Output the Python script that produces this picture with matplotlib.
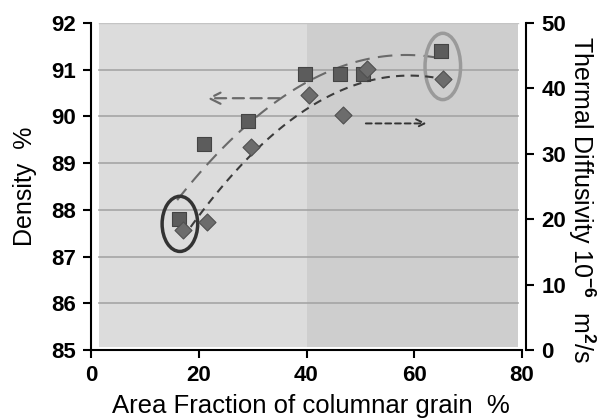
import numpy as np
import matplotlib
matplotlib.use("Agg")
import matplotlib.pyplot as plt
from matplotlib.patches import Ellipse

plt.rcParams['font.family'] = ['Liberation Sans', 'DejaVu Sans']
plt.rcParams['font.weight'] = 'bold'
plt.rcParams['xtick.labelsize'] = 16
plt.rcParams['ytick.labelsize'] = 16
plt.rcParams['mathtext.fontset'] = 'custom'
plt.rcParams['mathtext.rm'] = 'Liberation Sans'
plt.rcParams['mathtext.it'] = 'Liberation Sans:italic'
plt.rcParams['mathtext.bf'] = 'Liberation Sans:bold'

# Data
dens_x = [16.3, 20.9, 29.2, 39.8, 46.2, 50.5, 65.0]
dens_y = [87.8, 89.4, 89.9, 90.9, 90.9, 90.9, 91.4]
diff_x = [17.0, 21.5, 29.7, 40.4, 46.7, 51.2, 65.4]
diff_y = [18.4, 19.5, 31.1, 39.0, 36.0, 42.9, 41.4]
x_ticks = [0, 20, 40, 60, 80]
left_ticks = [85, 86, 87, 88, 89, 90, 91, 92]
right_ticks = [0, 10, 20, 30, 40, 50]

fig = plt.figure(figsize=(6.03, 4.2), dpi=100)
ax = fig.add_axes([91/603, 70/420, 431/603, 327/420])
ax.set_xlim(0, 80)
ax.set_ylim(85, 92)
ax.axvspan(1.5, 40, ymin=0.008, ymax=1, color='#dcdcdc', lw=0, zorder=0)
ax.axvspan(40, 79.2, ymin=0.008, ymax=1, color='#cecece', lw=0, zorder=0)
for v in left_ticks[1:-1]:
    ax.axhline(v, xmin=1.5/80, xmax=79.2/80, color='#a5a5a5', lw=1.2, zorder=1)
ax.axhline(92, xmin=1.5/80, xmax=79.2/80, color='#c4c4c4', lw=1.0, zorder=1)

ax2 = ax.twinx()
ax2.set_ylim(0, 50)

# trend lines (2nd-order polynomial fits)
xs = np.linspace(16, 65, 100)
pd_ = np.polyfit(dens_x, dens_y, 2)
ax.plot(xs, np.polyval(pd_, xs), color='#6a6a6a', lw=1.5, dashes=(7, 4), zorder=3)
xs2 = np.linspace(18.5, 65.4, 100)
pt_ = np.polyfit(diff_x, diff_y, 2)
ax2.plot(xs2, np.polyval(pt_, xs2), color='#3c3c3c', lw=1.5, dashes=(4, 3), zorder=3)

ax.scatter(dens_x, dens_y, marker='s', s=95, color='#5c5c5c', edgecolor='#444444', lw=0.8, zorder=4)
ax2.scatter(diff_x, diff_y, marker='D', s=75, color='#6c6c6c', edgecolor='#505050', lw=0.8, zorder=4)

# ellipses
ax.add_patch(Ellipse((16.5, 87.7), 6.6, 1.18, fill=False, edgecolor='#333333', lw=2.5, zorder=5))
ax.add_patch(Ellipse((65.3, 91.07), 6.6, 1.42, fill=False, edgecolor='#9a9a9a', lw=2.5, zorder=5))

# arrows
ax.annotate('', xy=(21.0, 90.39), xytext=(35.5, 90.39),
            arrowprops=dict(arrowstyle='->', color='#6a6a6a', lw=1.6, linestyle=(0, (5, 3)), mutation_scale=20), zorder=5)
ax.annotate('', xy=(62.8, 89.85), xytext=(50.5, 89.85),
            arrowprops=dict(arrowstyle='->', color='#333333', lw=1.4, linestyle=(0, (3, 2)), mutation_scale=15), zorder=5)

ax.set_xticks(x_ticks)
ax.set_yticks(left_ticks)
ax2.set_yticks(right_ticks)
for a in (ax, ax2):
    a.set_facecolor('none')
    a.spines['top'].set_visible(False)
    for s in a.spines.values():
        s.set_linewidth(1.5)
        s.set_color('black')
    a.tick_params(direction='out', length=6, width=1.5, pad=5)
ax.spines['right'].set_visible(False)
ax2.spines['left'].set_visible(False)
ax2.spines['bottom'].set_visible(False)
ax2.spines['right'].set_position(('outward', 3))

ax.set_xlabel('Area Fraction of columnar grain  %', fontsize=18.5, fontweight='normal',
              va='center', ha='center')
ax.xaxis.set_label_coords(0.51, -0.172)
ax.set_ylabel('Density  %', fontsize=18, fontweight='normal', va='center', ha='center')
ax.yaxis.set_label_coords(-0.153, 0.50)
ax2.set_ylabel('Thermal Diffusivity 10$^{-6}$  m$^{2}$/s', fontsize=18, fontweight='normal',
               rotation=270, va='center', ha='center')
ax2.yaxis.set_label_coords(1.139, 0.459)

fig.savefig('out.png', dpi=100, facecolor='white')
